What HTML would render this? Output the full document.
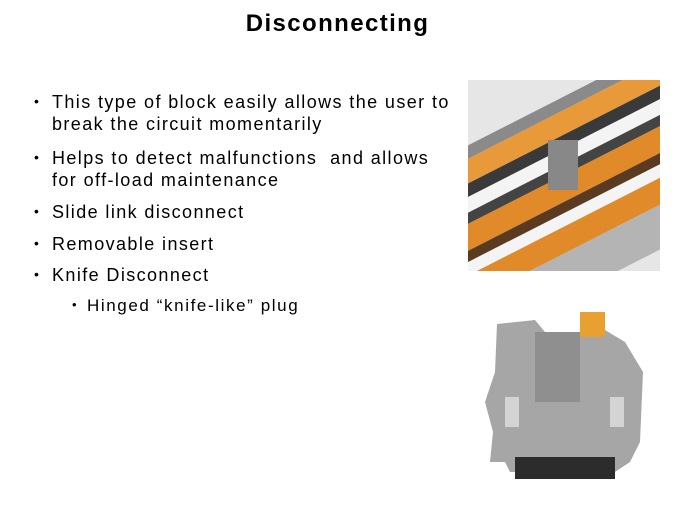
<!DOCTYPE html>
<html><head><style>
body{margin:0;width:675px;height:506px;background:#fff;font-family:"Liberation Sans",sans-serif;position:relative;overflow:hidden}
h1{position:absolute;top:10px;left:0;width:675px;text-align:center;margin:0;font-size:24px;letter-spacing:1.4px;font-weight:bold;color:#000}
.t{position:absolute;font-size:18px;letter-spacing:1.4px;color:#000;line-height:22px;white-space:nowrap}
.b{position:absolute;font-size:14px}
</style></head><body>
<h1>Disconnecting</h1>
<div class="b" style="left:34px;top:93px">•</div>
<div class="t" style="left:52px;top:91px">This type of block easily allows the user to<br>break the circuit momentarily</div>
<div class="b" style="left:34px;top:149px">•</div>
<div class="t" style="left:52px;top:147px">Helps to detect malfunctions&nbsp; and allows<br>for off-load maintenance</div>
<div class="b" style="left:34px;top:203px">•</div>
<div class="t" style="left:52px;top:201px">Slide link disconnect</div>
<div class="b" style="left:34px;top:235px">•</div>
<div class="t" style="left:52px;top:233px">Removable insert</div>
<div class="b" style="left:34px;top:266px">•</div>
<div class="t" style="left:52px;top:264px">Knife Disconnect</div>
<div class="b" style="left:72px;top:297px;font-size:13px">•</div>
<div class="t" style="left:87px;top:295px;font-size:17px;letter-spacing:1.6px">Hinged “knife-like” plug</div>

<svg style="position:absolute;left:468px;top:80px" width="192" height="191" viewBox="0 0 192 191">
<rect width="192" height="191" fill="#e6e6e6"/>
<g transform="rotate(-27 96 95)">
<rect x="-80" y="25" width="360" height="12" fill="#8a8a8a"/>
<rect x="-80" y="37" width="360" height="22" fill="#e89a3a"/>
<rect x="-80" y="59" width="360" height="12" fill="#3a3a3a"/>
<rect x="-80" y="71" width="360" height="14" fill="#f4f4f4"/>
<rect x="-80" y="85" width="360" height="10" fill="#444"/>
<rect x="-80" y="95" width="360" height="24" fill="#e08a2a"/>
<rect x="-80" y="119" width="360" height="10" fill="#5a3a20"/>
<rect x="-80" y="129" width="360" height="12" fill="#f4f4f4"/>
<rect x="-80" y="141" width="360" height="24" fill="#e08a2a"/>
<rect x="-80" y="165" width="360" height="40" fill="#b4b4b4"/>
</g>
<rect x="80" y="60" width="30" height="50" fill="#888"/>
</svg>

<svg style="position:absolute;left:485px;top:312px" width="160" height="172" viewBox="0 0 160 172">
<polygon points="12,12 50,8 60,20 95,20 100,8 115,15 140,30 158,60 155,130 145,150 130,160 25,160 20,150 5,150 8,120 0,90 10,60" fill="#a6a6a6"/>
<rect x="30" y="145" width="100" height="22" fill="#2c2c2c"/>
<rect x="95" y="0" width="25" height="25" fill="#e8a030"/>
<rect x="20" y="85" width="14" height="30" fill="#d4d4d4"/>
<rect x="125" y="85" width="14" height="30" fill="#d4d4d4"/>
<rect x="50" y="20" width="45" height="70" fill="#8f8f8f"/>
</svg>
</body></html>
